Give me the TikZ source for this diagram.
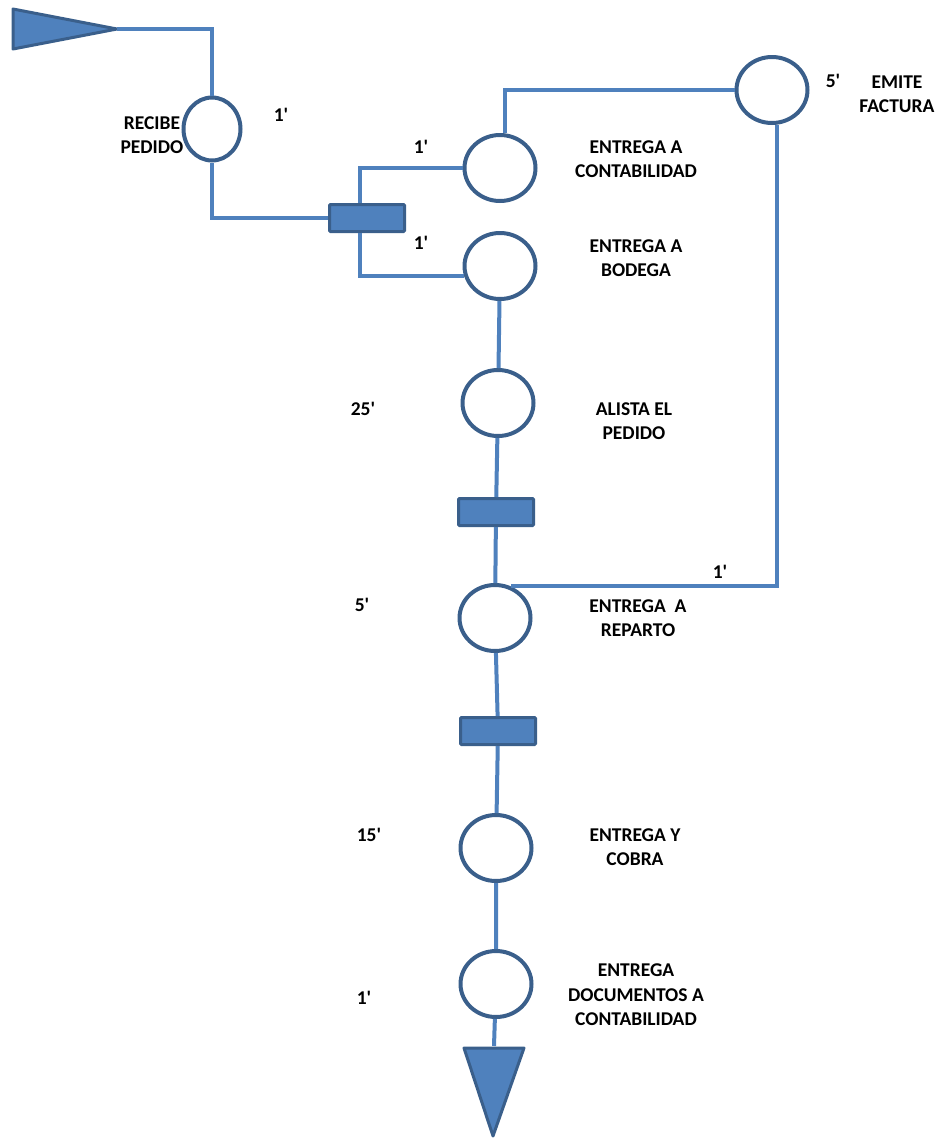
\documentclass[tikz,border=0pt]{standalone}
\usepackage{fontspec}
\setmainfont{Carlito}
\usetikzlibrary{shapes.geometric}
\definecolor{azul}{HTML}{4F81BD}
\definecolor{borde}{HTML}{3A5F8B}

\begin{document}
\begin{tikzpicture}[
  x=1pt, y=-1pt,
  font=\fontsize{19.5}{24.5}\selectfont\bfseries,
  every node/.style={inner sep=0pt, outer sep=0pt},
  oper/.style={ellipse, draw=borde, line width=4pt, fill=white,
    minimum width=71pt, minimum height=66pt, outer sep=2pt},
  barra/.style={rectangle, draw=borde, line width=3pt, fill=azul,
    minimum width=75pt, minimum height=27pt, rounded corners=1pt, outer sep=1.5pt},
  flujo/.style={draw=azul, line width=4pt},
  marca/.style={draw=borde, line width=3pt, fill=azul, line join=round},
  texto/.style={align=center}
]
\useasboundingbox (0,0) rectangle (941,1141);

% Inicio y fin del recorrido
\filldraw[marca] (13,9) -- (117,29) -- (13,49) -- cycle;
\coordinate (inicio) at (117,29);
\filldraw[marca] (464,1048) -- (524,1048) -- (493,1136) -- cycle;
\coordinate (fin) at (494,1046);

% Operaciones
\node[oper, minimum width=57pt, minimum height=63pt] (recibe) at (212,129) {};
\node[oper] (contab)  at (500,168) {};
\node[oper] (emite)   at (772,90)  {};
\node[oper] (bodega)  at (500,266) {};
\node[oper] (alista)  at (498,403) {};
\node[oper] (reparto) at (495,618) {};
\node[oper] (cobra)   at (496,848) {};
\node[oper] (docs)    at (496,984) {};

% Esperas
\node[barra] (d1) at (367,218) {};
\node[barra] (d2) at (496,512) {};
\node[barra] (d3) at (498,731) {};

% Recorrido
\draw[flujo] (inicio) -| (recibe.north);
\draw[flujo] (recibe.south) |- (d1.west);
\draw[flujo] ([xshift=-7pt]d1.north) |- (contab.west);
\draw[flujo] ([xshift=-7pt]d1.south) |- (bodega.195);
\draw[flujo] ([xshift=5pt]contab.north) |- (emite.west);
\draw[flujo] ([xshift=5pt]emite.south) |- (reparto.64);
\draw[flujo] (bodega) -- (alista) -- (d2) -- (reparto) -- (d3) -- (cobra) -- (docs) -- (fin);

% Nombres de las operaciones
\node[texto] (t-recibe)  at (152,135) {RECIBE\\PEDIDO};
\node[texto] (t-contab)  at (636,159) {ENTREGA A\\CONTABILIDAD};
\node[texto] (t-bodega)  at (636,258) {ENTREGA A\\BODEGA};
\node[texto] (t-emite)   at (897,94)  {EMITE\\FACTURA};
\node[texto] (t-alista)  at (634,421) {ALISTA EL\\PEDIDO};
\node[texto] (t-reparto) at (638,618) {ENTREGA~ A\\REPARTO};
\node[texto] (t-cobra)   at (635,847) {ENTREGA Y\\COBRA};
\node[texto] (t-docs)    at (636,995) {ENTREGA\\DOCUMENTOS A\\CONTABILIDAD};

% Tiempos
\node (m-recibe)  at (281,115) {1\textquotesingle};
\node (m-contab)  at (421,147) {1\textquotesingle};
\node (m-bodega)  at (421,243) {1\textquotesingle};
\node (m-emite)   at (833,81)  {5\textquotesingle};
\node (m-alista)  at (363,409) {25\textquotesingle};
\node (m-enlace)  at (720,572) {1\textquotesingle};
\node (m-reparto) at (362,605) {5\textquotesingle};
\node (m-cobra)   at (369,835) {15\textquotesingle};
\node (m-docs)    at (364,998) {1\textquotesingle};

\end{tikzpicture}
\end{document}
